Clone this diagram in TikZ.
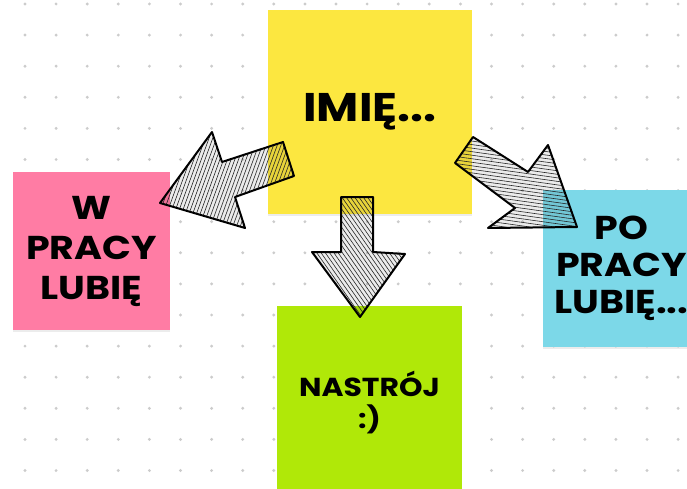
\documentclass[tikz,border=0pt]{standalone}
\usepackage{fontspec}
\setmainfont{Poppins}[FakeStretch=1.15]
\usetikzlibrary{shadows}
\definecolor{notepink}{RGB}{255,124,164}
\definecolor{noteyellow}{RGB}{252,231,64}
\definecolor{notecyan}{RGB}{124,216,232}
\definecolor{notegreen}{RGB}{176,232,8}
\definecolor{dotgray}{RGB}{204,204,204}
\begin{document}
\begin{tikzpicture}[x=1pt,y=-1pt,
	note/.style={fill=#1,inner sep=0pt,align=center,drop shadow={opacity=.15,shadow xshift=0pt,shadow yshift=-2pt}},
	sketchfill/.style={fill=black,fill opacity=.08},
	sketch/.style={draw=black,line width=2pt,line join=round},
	hatch/.style={black!85,line width=.6pt}]
		\useasboundingbox (0,0) rectangle (687,489);
		\clip (0,0) rectangle (687,489);
		\fill[white] (0,0) rectangle (687,489);
		% dotted board
		\foreach \i in {0,...,21}{
			\foreach \j in {0,...,15}{
				\fill[dotgray] (25+31.1*\i,4+31.1*\j) circle (1.6);
				}}
		\node[note=noteyellow,minimum width=204pt,minimum height=204pt,font=\bfseries\fontsize{40}{46}\selectfont] (imie) at (370,112){IMIĘ...};
		\node[note=notepink,minimum width=157pt,minimum height=158pt,font=\bfseries\fontsize{33}{40}\selectfont] (wpracy) at (91.5,251){W\\PRACY\\LUBIĘ};
		\node[note=notecyan,minimum width=157pt,minimum height=157pt,font=\bfseries\fontsize{33}{37}\selectfont] (popracy) at (621.5,268.5){PO\\PRACY\\LUBIĘ...};
		\node[note=notegreen,minimum width=185pt,minimum height=194pt,font=\bfseries\fontsize{26}{32}\selectfont] (nastroj) at (369.5,403){NASTRÓJ\\:)};
		% sketched arrows
		\def\leftarr{(283,142) -- (222,162) -- (212,132) -- (160,203) -- (245,228) -- (235,197) -- (294,176) -- cycle}
		\def\downarr{(341,197) -- (373,197) -- (373,252) -- (405,254) -- (360,317) -- (312,252) -- (341,252) -- cycle}
		\def\rightarr{(473,137) -- (528,172) -- (548,145) -- (577,227) -- (488,228) -- (515,208) -- (455,163) -- cycle}
		\fill[sketchfill] \leftarr;
		\fill[sketchfill] \downarr;
		\fill[sketchfill] \rightarr;
		\begin{scope}
			\clip \leftarr;
			\foreach \d in {-90,-86.5,...,90}
				\draw[hatch,shift={(230,180)},rotate=70] (-130,\d) -- (130,\d);
		\end{scope}
		\begin{scope}
			\clip \downarr;
			\foreach \d in {-90,-86.5,...,90}
				\draw[hatch,shift={(358,255)},rotate=-55] (-130,\d) -- (130,\d);
		\end{scope}
		\begin{scope}
			\clip \rightarr;
			\foreach \d in {-90,-86.5,...,90}
				\draw[hatch,shift={(515,185)},rotate=-8] (-130,\d) -- (130,\d);
		\end{scope}
		\draw[sketch] \leftarr;
		\draw[sketch] \downarr;
		\draw[sketch] \rightarr;
		% \draw[->] (imie)--(wpracy);
		\end{tikzpicture}
\end{document}
